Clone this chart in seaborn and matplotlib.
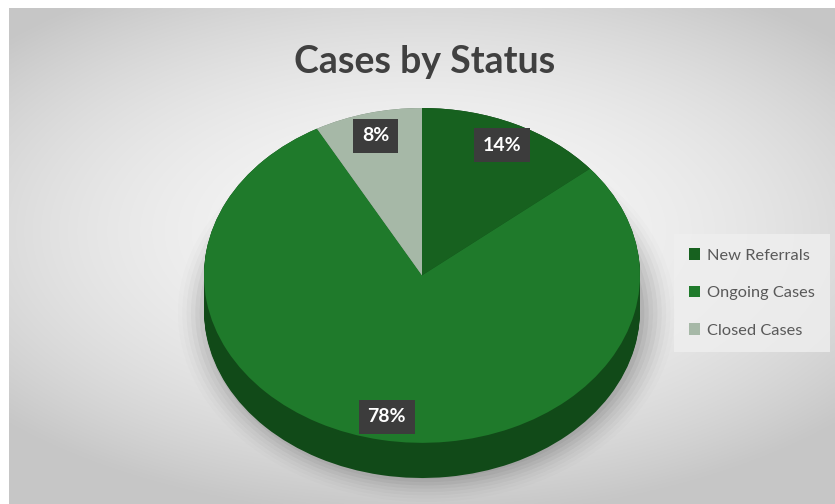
import numpy as np
import matplotlib
matplotlib.use("Agg")
import matplotlib.pyplot as plt
import seaborn as sns
from matplotlib.patches import Ellipse

# data
statuses = ["New Referrals", "Ongoing Cases", "Closed Cases"]
shares = [14, 78, 8]
face_colors = ["#17611f", "#1f7a2b", "#a6b8a7"]
side_colors = ["#0c3f12", "#114a18", "#6e806f"]
title = "Cases by Status"

sns.set_theme(style="white")
plt.rcParams['font.family'] = ['Lato', 'DejaVu Sans']

W, H = 835, 504
fig = plt.figure(figsize=(W / 100, H / 100), dpi=100)
fig.patch.set_facecolor("white")

# gradient background panel
bg = fig.add_axes([9 / W, 0, 1 - 9 / W, 1 - 8 / H])
yy, xx = np.mgrid[-1:1:200j, -1:1:300j]
r2 = (xx * 0.85) ** 2 + ((yy + 0.1) * 1.0) ** 2
g = np.clip(0.965 - 0.14 * r2, 0.78, 1.0)
bg.imshow(np.dstack([g, g, g]), aspect="auto", extent=[0, 1, 0, 1],
          interpolation="bicubic")
bg.set_xlim(0, 1)
bg.set_ylim(0, 1)
bg.axis("off")

# pie axes (elliptical, side drawn as stacked layers)
depth = 0.21
ax = fig.add_axes([204 / W, (H - 478) / H, 436 / W, 370 / H])

# soft shadow
for k, a in enumerate(np.linspace(0.05, 0.012, 8)):
    s = 1 + k * 0.02
    ax.add_patch(Ellipse((0.02, -depth - 0.015), 2 * s, 2 * s * 0.99,
                         color="black", alpha=a, lw=0, zorder=0,
                         clip_on=False))

for off in np.linspace(-depth, 0, 30):
    ax.pie(shares, colors=side_colors, startangle=90, counterclock=False,
           center=(0, off), radius=1, frame=True,
           wedgeprops=dict(linewidth=0))

wedges, texts, autotexts = ax.pie(
    shares, colors=face_colors, startangle=90, counterclock=False,
    radius=1, frame=True, autopct="%d%%", pctdistance=0.86,
    wedgeprops=dict(linewidth=0),
    textprops=dict(color="white", fontsize=14, fontweight="bold"))
for t in autotexts:
    t.set_bbox(dict(boxstyle="square,pad=0.45", facecolor="#3c3c3c",
                    edgecolor="none"))
ax.set_aspect("auto")
ax.set_xlim(-1, 1)
ax.set_ylim(-1 - depth, 1)
ax.axis("off")

fig.text(0.508, 0.877, title, ha="center", va="center", fontsize=27,
         fontweight="bold", color="#404040")

leg = fig.legend(wedges, statuses, loc="center left",
                 bbox_to_anchor=(666 / W, 1 - 293 / H), frameon=True,
                 fontsize=11.8, handlelength=0.7, handleheight=0.7,
                 handletextpad=0.4, labelspacing=1.4, borderpad=0.9,
                 fancybox=False)
leg.get_frame().set_facecolor("#efefef")
leg.get_frame().set_edgecolor("none")
for t in leg.get_texts():
    t.set_color("#595959")

fig.savefig("out.png", dpi=100)
